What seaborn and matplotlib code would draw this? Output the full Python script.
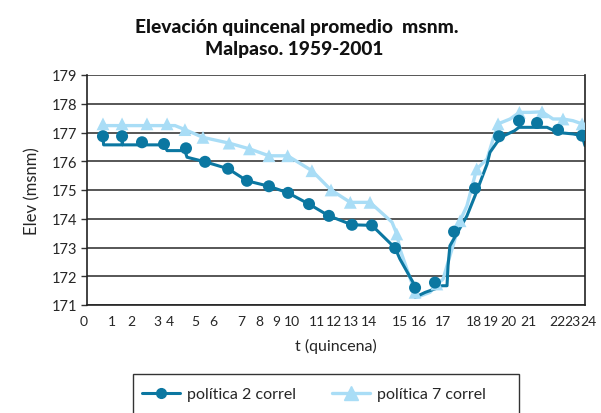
import matplotlib
matplotlib.use("Agg")
import matplotlib.pyplot as plt
import matplotlib.transforms as mtransforms
from matplotlib.lines import Line2D
from matplotlib.patches import Rectangle
import seaborn as sns

# quincena markers, politica 2 correl
p2_t = [0.77, 1.69, 2.65, 3.71, 4.77, 5.69, 6.80, 7.71, 8.77, 9.69, 10.70, 11.66,
        12.77, 13.73, 14.85, 15.81, 16.77, 17.69, 18.70, 19.86, 20.82, 21.69, 22.70, 23.86]
p2_elev = [176.87, 176.87, 176.66, 176.60, 176.45, 175.98, 175.74, 175.32, 175.13, 174.90, 174.51, 174.10,
           173.79, 173.77, 172.98, 171.60, 171.78, 173.55, 175.06, 176.87, 177.41, 177.33, 177.09, 176.89]

# detailed trace, politica 2 correl
p2_line_t = [0.77, 0.80, 1.69, 1.69, 1.72, 3.71, 3.86, 4.72, 4.82, 5.69, 6.80, 7.71, 8.77, 9.69,
             10.70, 11.66, 12.77, 13.73, 14.85, 15.08, 15.71, 15.81, 16.30, 16.77, 17.11, 17.35,
             17.40, 17.49, 18.31, 18.70, 19.28, 19.42, 19.76, 20.10, 20.60, 20.82, 21.69, 22.17,
             22.70, 23.42, 23.86, 24.0]
p2_line_elev = [176.87, 176.57, 176.57, 176.87, 176.57, 176.57, 176.37, 176.37, 176.14, 175.98, 175.74,
                175.32, 175.13, 174.90, 174.51, 174.10, 173.79, 173.77, 172.98, 172.60, 171.79, 171.27,
                171.44, 171.56, 171.67, 171.67, 172.37, 173.06, 174.10, 174.80, 175.90, 176.31, 176.66,
                176.89, 177.06, 177.18, 177.18, 177.18, 177.00, 176.95, 176.89, 176.54]

# quincena markers, politica 7 correl
p7_t = [0.77, 1.69, 2.89, 3.86, 4.72, 5.59, 6.85, 7.83, 8.77, 9.67, 10.84, 11.76,
        12.69, 13.64, 14.93, 15.81, 16.86, 17.98, 18.78, 19.81, 20.84, 21.93, 22.94, 23.86]
p7_elev = [177.30, 177.30, 177.30, 177.30, 177.10, 176.83, 176.63, 176.43, 176.19, 176.19, 175.67, 175.00,
           174.57, 174.57, 173.47, 171.44, 171.73, 173.93, 175.73, 177.30, 177.70, 177.72, 177.47, 177.30]

# detailed trace, politica 7 correl
p7_line_t = [0.77, 4.24, 4.72, 5.59, 6.85, 7.83, 8.77, 9.67, 10.84, 11.76, 12.69, 13.64, 14.70,
             14.93, 15.08, 15.47, 15.81, 15.90, 16.53, 16.86, 17.16, 17.40, 17.64, 17.98, 18.31,
             18.78, 19.28, 19.57, 19.81, 20.39, 20.84, 21.35, 21.93, 22.46, 22.94, 23.42, 23.86, 24.0]
p7_line_elev = [177.24, 177.24, 177.10, 176.83, 176.63, 176.43, 176.19, 176.19, 175.67, 175.00, 174.57,
                174.57, 173.88, 173.47, 172.95, 172.14, 171.44, 171.27, 171.44, 171.73, 171.90, 172.49,
                173.06, 173.93, 174.45, 175.73, 176.08, 176.77, 177.30, 177.47, 177.70, 177.70, 177.72,
                177.47, 177.47, 177.41, 177.30, 177.18]

# x tick labels (placed where the original axis shows them)
tick_pos = [0.0, 1.21, 2.13, 3.39, 3.97, 5.22, 6.10, 7.45, 8.32, 9.14, 9.87, 11.10, 11.88,
            12.72, 13.60, 15.09, 15.98, 17.13, 18.63, 19.45, 20.32, 21.25, 22.65, 23.38, 24.0]
tick_labels = [str(i) for i in range(25)]
y_ticks = list(range(171, 180))

dark = "#0b77a1"
light = "#a9ddf6"

sns.set_theme(style="white")
plt.rcParams["font.family"] = ["Lato", "DejaVu Sans"]

fig = plt.figure(figsize=(6.01, 4.14), dpi=100)
ax = fig.add_axes([87 / 601, 1 - 306 / 414, (585 - 87) / 601, (306 - 76) / 414])

for y in y_ticks:
    ax.axhline(y, color="#3a3a3a", lw=1.2, zorder=0)

sns.lineplot(x=p7_line_t, y=p7_line_elev, sort=False, estimator=None, color=light, lw=2.4, ax=ax)
sns.scatterplot(x=p7_t, y=p7_elev, marker="^", s=85, color=light, edgecolor="none", ax=ax, zorder=3)
sns.lineplot(x=p2_line_t, y=p2_line_elev, sort=False, estimator=None, color=dark, lw=2.2, ax=ax)
sns.scatterplot(x=p2_t, y=p2_elev, marker="o", s=75, color=dark, edgecolor="none", ax=ax, zorder=4)

ax.set_xlim(0, 24)
ax.set_ylim(171, 179)
ax.set_yticks(y_ticks)
ax.set_yticklabels([str(v) for v in y_ticks], fontsize=10.5)
ax.set_xticks(tick_pos)
ax.set_xticklabels(tick_labels, fontsize=10)
ax.tick_params(axis="x", length=0, pad=7)
ax.tick_params(axis="y", length=4, width=1, color="#333333", direction="out", left=True, pad=3)

# nudge the end labels out like in the original
xlabels = ax.get_xticklabels()
for lab, dx in [(xlabels[0], -3), (xlabels[-1], 3)]:
    lab.set_transform(lab.get_transform() + mtransforms.ScaledTranslation(dx / 100, 0, fig.dpi_scale_trans))

for side in ["left", "bottom", "right"]:
    ax.spines[side].set_color("#222222")
    ax.spines[side].set_linewidth(1.2)
ax.spines["top"].set_visible(False)

ax.set_xlabel("t (quincena)", fontsize=11.5, labelpad=8)
ax.set_ylabel("Elev (msnm)", fontsize=12, labelpad=8)

fig.text(297 / 601, 1 - 27 / 414, "Elevación quincenal promedio  msnm.", ha="center", va="center",
         fontsize=13.8, fontweight="black", color="#111111")
fig.text(294 / 601, 1 - 50 / 414, "Malpaso. 1959-2001", ha="center", va="center",
         fontsize=13.8, fontweight="black", color="#111111")

# legend box
fig.patches.append(Rectangle((133 / 601, -0.05), (519 - 133) / 601, 0.05 + 1 - 375 / 414,
                             transform=fig.transFigure, facecolor="white", edgecolor="#333333", lw=1))
handles = [Line2D([0], [0], color=dark, lw=2.2, marker="o", markersize=7),
           Line2D([0], [0], color=light, lw=2.4, marker="^", markersize=10)]
fig.legend(handles, ["política 2 correl", "política 7 correl"], loc="center",
           bbox_to_anchor=(314 / 601, 1 - 395 / 414), ncol=2, frameon=False, fontsize=11.5,
           handlelength=2.4, columnspacing=2.2, handletextpad=0.45)

fig.savefig("out.png", dpi=100)
